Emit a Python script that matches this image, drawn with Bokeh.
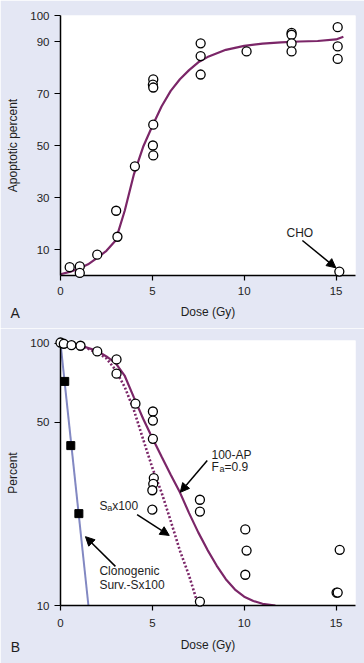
from bokeh.plotting import figure
from bokeh.layouts import column
from bokeh.models import Range1d, FixedTicker, Label, Arrow, NormalHead, PrintfTickFormatter
from bokeh.core.properties import value
from bokeh.embed import file_html
from bokeh.resources import INLINE

# ---------------- Panel A data ----------------
a_dose = [0.5, 1.05, 1.05, 2.0, 3.03, 3.1, 4.05, 5.05, 5.03, 5.05, 5.05, 5.03, 5.05,
          7.63, 7.63, 7.63, 10.13, 12.58, 12.58, 12.58, 12.58, 15.09, 15.09, 15.09]
a_apop = [3.2, 3.5, 1.0, 8.0, 24.9, 14.9, 42.0, 75.4, 73.4, 72.3, 58.0, 50.0, 46.2,
          89.3, 84.4, 77.3, 86.2, 93.3, 92.6, 89.3, 86.2, 95.5, 88.1, 83.3]
cho_dose = [15.18]
cho_apop = [1.5]
a_fit_dose = [0, 0.5, 1, 1.5, 2, 2.5, 3, 3.5, 4, 4.5, 5, 5.5, 6, 6.5, 7, 7.5, 8,
              9, 10, 11, 12, 13, 14, 15, 15.4]
a_fit_apop = [0.5, 1.4, 2.6, 4.3, 6.8, 9.5, 13.5, 25, 39, 49.5, 57.5, 65, 71, 75.5,
              79, 82, 84, 86.8, 88.3, 89.2, 89.7, 90, 90.2, 90.8, 91.8]
a_xticks = [0, 5, 10, 15]
a_yticks = [10, 30, 50, 70, 90, 100]

# ---------------- Panel B data ----------------
b_dose = [0, 0.18, 0.6, 1.09, 2.0, 3.05, 3.05, 4.08, 5.03, 5.03, 5.03, 5.08, 5.05,
          5.0, 5.0, 7.59, 7.59, 7.59, 10.06, 10.13, 10.06, 15.2, 15.03, 15.09]
b_pct = [100.6, 99.5, 98.3, 97.8, 93, 86.7, 76.5, 58.8, 54.9, 50.7, 43.2, 30.6, 29.1,
         27.5, 23.2, 25.3, 22.8, 10.35, 19.5, 16.2, 13.1, 16.3, 11.2, 11.2]
sq_dose = [0.23, 0.56, 1.0]
sq_pct = [71.5, 40.7, 22.4]
clono_dose = [0, 1.52]
clono_pct = [100, 10]
ap_dose = [0, 1, 2, 2.5, 3, 3.5, 4, 4.5, 5, 5.5, 6, 6.5, 7, 7.5, 8, 8.5, 9, 9.5,
           10, 10.5, 11, 11.7]
ap_pct = [100, 98.5, 93.5, 89, 84, 75, 62, 51.5, 43.5, 37, 31.5, 27, 22.5, 19,
          16.3, 14.2, 12.6, 11.5, 10.8, 10.4, 10.15, 10]
sa_dose = [0, 1, 2, 2.5, 3, 3.5, 4, 4.5, 5, 5.5, 6, 6.5, 7, 7.5]
sa_pct = [100, 98.5, 92, 87.5, 79, 68, 55.5, 43, 33.5, 27, 21, 16.2, 13, 10]
b_xticks = [0, 5, 10, 15]
b_yticks = [10, 50, 100]

BG = "#E4E7F4"
PURPLE = "#7B2668"
BLUE = "#8288C2"
FONT = "Liberation Sans"
TXT = "#1e1e1e"


def style(p, xlab, ylab, xstand, xlabstand):
    p.grid.visible = False
    p.xaxis.axis_label = xlab
    p.yaxis.axis_label = ylab
    for ax in p.axis:
        ax.axis_line_color = "black"
        ax.axis_line_width = 1.5
        ax.major_tick_line_color = "black"
        ax.major_tick_line_width = 1.2
        ax.major_tick_in = 0
        ax.minor_tick_in = 0
        ax.minor_tick_out = 0
        ax.major_label_text_font = FONT
        ax.major_label_text_font_size = "11.5px"
        ax.major_label_text_color = TXT
        ax.axis_label_text_font = FONT
        ax.axis_label_text_font_size = "12px"
        ax.axis_label_text_font_style = "normal"
        ax.axis_label_text_color = TXT
    p.yaxis.major_tick_out = 6
    p.yaxis.major_label_standoff = 5
    p.yaxis.axis_label_standoff = 7
    p.xaxis.major_tick_out = 5
    p.xaxis.major_label_standoff = xstand
    p.xaxis.axis_label_standoff = xlabstand


def head():
    return NormalHead(size=9, fill_color="black", line_color="black")


def panel_letter(p, x, y, t):
    p.text(x=[x], y=[y], text=[t], text_align="center", text_baseline="middle",
           text_font=value(FONT), text_font_size="14px", text_color=TXT, level="overlay")


# ---------------- Panel A ----------------
pa = figure(width=364, height=328, x_range=Range1d(0, 16.06), y_range=Range1d(0, 100),
            output_backend="svg", toolbar_location=None,
            min_border_left=60, min_border_right=9, min_border_top=15, min_border_bottom=53,
            background_fill_color="white", border_fill_color=BG, outline_line_color=None)
style(pa, "Dose (Gy)", "Apoptotic percent", 6, 7)
pa.xaxis.ticker = FixedTicker(ticks=a_xticks)
pa.yaxis.ticker = FixedTicker(ticks=a_yticks)

pa.line(a_fit_dose, a_fit_apop, line_color=PURPLE, line_width=2.2)
pa.scatter(a_dose, a_apop, marker="circle", size=9, fill_color="white",
           line_color="black", line_width=1.3, level="overlay")
pa.scatter(cho_dose, cho_apop, marker="circle", size=9, fill_color="white",
           line_color="black", line_width=1.3, level="overlay")
pa.add_layout(Arrow(end=head(), x_start=13.17, y_start=13.46, x_end=14.99, y_end=2.96,
                    line_width=1.5, line_color="black"))
pa.add_layout(Label(x=13.03, y=16.27, text="CHO", text_align="center", text_baseline="middle",
                    text_font=FONT, text_font_size="12px", text_color=TXT))
panel_letter(pa, -2.47, -14.6, "A")

# ---------------- Panel B ----------------
pb = figure(width=364, height=335, x_range=Range1d(0, 16.06), y_range=Range1d(10, 102.4),
            y_axis_type="log", output_backend="svg", toolbar_location=None,
            min_border_left=60, min_border_right=9, min_border_top=12, min_border_bottom=58,
            background_fill_color="white", border_fill_color=BG, outline_line_color=None)
style(pb, "Dose (Gy)", "Percent", 8, 8)
pb.xaxis.ticker = FixedTicker(ticks=b_xticks)
pb.yaxis.ticker = FixedTicker(ticks=b_yticks)
pb.yaxis.formatter = PrintfTickFormatter(format="%d")

pb.line(clono_dose, clono_pct, line_color=BLUE, line_width=2)
pb.line(sa_dose, sa_pct, line_color=PURPLE, line_width=2.6, line_dash="2 2")
pb.line(ap_dose, ap_pct, line_color=PURPLE, line_width=2.2)
pb.scatter(sq_dose, sq_pct, marker="square", size=8, fill_color="black",
           line_color="black", level="overlay")
pb.scatter(b_dose, b_pct, marker="circle", size=9, fill_color="white",
           line_color="black", line_width=1.3, level="overlay")

pb.add_layout(Arrow(end=head(), x_start=7.99, y_start=35.7, x_end=6.52, y_end=27.0,
                    line_width=1.5, line_color="black"))
pb.add_layout(Arrow(end=head(), x_start=4.17, y_start=22.2, x_end=5.92, y_end=18.5,
                    line_width=1.5, line_color="black"))
pb.add_layout(Arrow(end=head(), x_start=2.99, y_start=14.1, x_end=1.36, y_end=18.3,
                    line_width=1.5, line_color="black"))


def lab(p, x, y, t, dx=0, size="12px"):
    p.add_layout(Label(x=x, y=y, x_offset=dx, text=t, text_align="left", text_baseline="middle",
                       text_font=FONT, text_font_size=size, text_color=TXT))


lab(pb, 8.22, 37.6, "100-AP")
lab(pb, 8.22, 33.68, "F")
lab(pb, 8.22, 33.0, "a", dx=8, size="9px")
lab(pb, 8.22, 33.68, "=0.9", dx=13)
lab(pb, 2.12, 24.05, "S")
lab(pb, 2.12, 23.5, "a", dx=7.7, size="9px")
lab(pb, 2.12, 24.05, "x100", dx=12.7)
lab(pb, 2.12, 13.59, "Clonogenic")
lab(pb, 2.12, 12.02, "Surv.-Sx100")
panel_letter(pb, -2.45, 6.97, "B")

layout = column(pa, pb)
open("out.html", "w").write(file_html(layout, INLINE))
